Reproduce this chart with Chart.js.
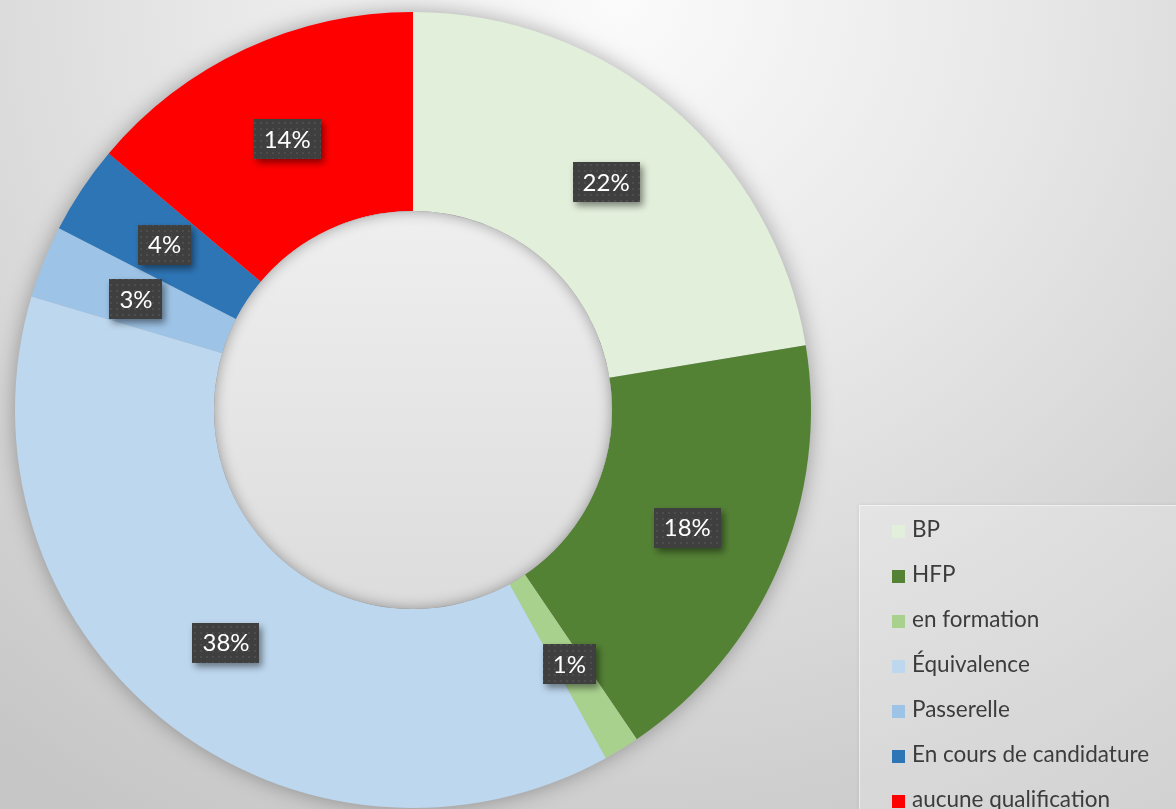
<!DOCTYPE html>
<html>
<head>
<meta charset="utf-8">
<script src="https://cdn.jsdelivr.net/npm/chart.js@4.4.1/dist/chart.umd.min.js"></script>
<style>
  html, body { margin: 0; padding: 0; }
  body {
    width: 1176px; height: 809px; overflow: hidden; position: relative;
    background: radial-gradient(ellipse 1000px 950px at 620px 0px, #fbfbfb 0%, #e8e8e8 40%, #d4d4d4 75%, #c6c6c6 100%);
    font-family: Lato, "Open Sans", sans-serif;
  }
  #chart { position: absolute; left: 0; top: 0; }
  .legend {
    position: absolute; left: 859px; top: 505px; width: 317px; height: 304px;
    background: rgba(255,255,255,0.22);
    border-top: 1px solid rgba(255,255,255,0.5);
    border-left: 1px solid rgba(255,255,255,0.5);
    box-shadow: 0 0 4px rgba(0,0,0,0.08);
  }
  .legend-item {
    position: absolute; left: 32px; height: 30px; line-height: 30px;
    font-size: 22.5px; color: #3c3c3c; white-space: nowrap;
  }
  .legend-item span.box {
    display: inline-block; width: 13px; height: 13px; margin-right: 7px; vertical-align: -1px;
  }
</style>
</head>
<body>
<canvas id="chart" width="1176" height="809"></canvas>
<div class="legend js-legend"></div>
<script>
// chart data
const categories = ['BP', 'HFP', 'en formation', 'Équivalence', 'Passerelle', 'En cours de candidature', 'aucune qualification'];
const shares = [22.4, 18.1, 1.45, 37.65, 2.95, 3.6, 13.85];
const sliceColors = ['#E2EFDA', '#548235', '#A9D18E', '#BDD7EE', '#9DC3E6', '#2E75B6', '#FF0000'];

const total = shares.reduce((a, b) => a + b, 0);

// dotted texture used behind the data labels
function makeLabelPattern(ctx) {
  const c = document.createElement('canvas');
  c.width = 6; c.height = 6;
  const p = c.getContext('2d');
  p.fillStyle = '#3f3f3f';
  p.fillRect(0, 0, 6, 6);
  p.fillStyle = '#4d4d4d';
  p.fillRect(2, 2, 2, 2);
  return ctx.createPattern(c, 'repeat');
}

// outer drop shadow + sunken hole in the middle
const ringEffects = {
  id: 'ringEffects',
  beforeDatasetsDraw(chart) {
    const arc = chart.getDatasetMeta(0).data[0];
    if (!arc) return;
    const { x, y, outerRadius } = arc.getProps(['x', 'y', 'outerRadius'], true);
    const ctx = chart.ctx;
    ctx.save();
    ctx.shadowColor = 'rgba(0,0,0,0.35)';
    ctx.shadowBlur = 22;
    ctx.fillStyle = '#bbbbbb';
    ctx.beginPath();
    ctx.arc(x, y, outerRadius - 1, 0, Math.PI * 2);
    ctx.fill();
    ctx.restore();
  },
  afterDatasetsDraw(chart) {
    const arc = chart.getDatasetMeta(0).data[0];
    if (!arc) return;
    const { x, y, innerRadius } = arc.getProps(['x', 'y', 'innerRadius'], true);
    const ctx = chart.ctx;
    ctx.save();
    ctx.beginPath();
    ctx.arc(x, y, innerRadius, 0, Math.PI * 2);
    ctx.clip();
    const g = ctx.createLinearGradient(0, y - innerRadius, 0, y + innerRadius);
    g.addColorStop(0, '#efefef');
    g.addColorStop(1, '#dcdcdc');
    ctx.fillStyle = g;
    ctx.fillRect(x - innerRadius, y - innerRadius, innerRadius * 2, innerRadius * 2);
    // inner shadow at the rim
    ctx.shadowColor = 'rgba(0,0,0,0.35)';
    ctx.shadowBlur = 14;
    ctx.lineWidth = 20;
    ctx.strokeStyle = '#999';
    ctx.beginPath();
    ctx.arc(x, y, innerRadius + 10, 0, Math.PI * 2);
    ctx.stroke();
    ctx.restore();
  }
};

// percentage boxes at the centre of each slice
const sliceLabels = {
  id: 'sliceLabels',
  afterDraw(chart) {
    const ctx = chart.ctx;
    const meta = chart.getDatasetMeta(0);
    const pattern = makeLabelPattern(ctx);
    ctx.save();
    ctx.font = '24px Lato, "Open Sans", sans-serif';
    ctx.textAlign = 'center';
    ctx.textBaseline = 'middle';
    meta.data.forEach((arc, i) => {
      const text = Math.round(shares[i] / total * 100) + '%';
      const pt = arc.getCenterPoint();
      const w = ctx.measureText(text).width + 20;
      const h = 40;
      ctx.save();
      ctx.shadowColor = 'rgba(0,0,0,0.45)';
      ctx.shadowBlur = 7;
      ctx.shadowOffsetX = 3;
      ctx.shadowOffsetY = 4;
      ctx.fillStyle = pattern;
      ctx.fillRect(Math.round(pt.x - w / 2), Math.round(pt.y - h / 2), Math.round(w), h);
      ctx.restore();
      ctx.fillStyle = '#ffffff';
      ctx.fillText(text, pt.x, pt.y + 1);
    });
    ctx.restore();
  }
};

const ctx = document.getElementById('chart').getContext('2d');
const chartInstance = new Chart(ctx, {
  type: 'doughnut',
  data: {
    labels: categories,
    datasets: [{
      data: shares,
      backgroundColor: sliceColors,
      borderWidth: 0
    }]
  },
  options: {
    responsive: false,
    animation: false,
    cutout: '50%',
    layout: { padding: { left: 15, top: 12, right: 365, bottom: 1 } },
    plugins: {
      legend: { display: false },
      tooltip: { enabled: false }
    }
  },
  plugins: [ringEffects, sliceLabels]
});

// legend built from the same arrays
const legendEl = document.querySelector('.js-legend');
categories.forEach((name, i) => {
  const item = document.createElement('div');
  item.className = 'legend-item';
  item.style.top = (8 + i * 45) + 'px';
  const box = document.createElement('span');
  box.className = 'box';
  box.style.background = sliceColors[i];
  item.appendChild(box);
  item.appendChild(document.createTextNode(name));
  legendEl.appendChild(item);
});
</script>
</body>
</html>
